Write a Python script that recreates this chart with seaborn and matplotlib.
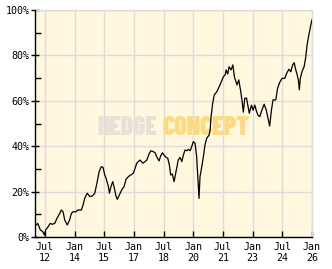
import matplotlib
matplotlib.use("Agg")
import matplotlib.pyplot as plt
from matplotlib.ticker import FixedLocator
import seaborn as sns
import pandas as pd

years = [2012.07, 2012.14, 2012.27, 2012.40, 2012.47, 2012.54, 2012.66, 2012.77, 2012.87, 2013.00,
         2013.11, 2013.25, 2013.33, 2013.42, 2013.50, 2013.63, 2013.75, 2013.84, 2013.92, 2014.06,
         2014.17, 2014.34, 2014.43, 2014.51, 2014.64, 2014.77, 2014.90, 2015.02, 2015.13, 2015.24,
         2015.35, 2015.44, 2015.52, 2015.59, 2015.71, 2015.76, 2015.84, 2015.93, 2016.01, 2016.10,
         2016.16, 2016.26, 2016.38, 2016.50, 2016.60, 2016.72, 2016.84, 2016.97, 2017.06, 2017.14,
         2017.22, 2017.31, 2017.45, 2017.56, 2017.65, 2017.78, 2017.86, 2017.98, 2018.07, 2018.15,
         2018.27, 2018.35, 2018.44, 2018.52, 2018.62, 2018.71, 2018.79, 2018.86, 2018.94, 2019.03,
         2019.08, 2019.16, 2019.24, 2019.33, 2019.42, 2019.50, 2019.58, 2019.67, 2019.75, 2019.84,
         2019.92, 2020.00, 2020.09, 2020.17, 2020.23, 2020.29, 2020.34, 2020.43, 2020.51, 2020.59,
         2020.68, 2020.80, 2020.85, 2020.90, 2020.98, 2021.06, 2021.19, 2021.27, 2021.35, 2021.44,
         2021.52, 2021.61, 2021.66, 2021.74, 2021.81, 2021.91, 2022.00, 2022.08, 2022.13, 2022.21,
         2022.30, 2022.40, 2022.47, 2022.53, 2022.60, 2022.69, 2022.77, 2022.83, 2022.94, 2023.02,
         2023.11, 2023.19, 2023.27, 2023.36, 2023.44, 2023.58, 2023.69, 2023.78, 2023.86, 2023.95,
         2024.03, 2024.17, 2024.26, 2024.36, 2024.49, 2024.62, 2024.74, 2024.84, 2024.93, 2025.02,
         2025.10, 2025.16, 2025.24, 2025.31, 2025.36, 2025.41, 2025.50, 2025.60, 2025.68, 2025.75,
         2025.84, 2025.93, 2026.00]

performance = [5.3, 6.0, 3.1, 2.3, 0.9, 3.1, 4.5, 6.0, 5.6, 6.0,
               8.2, 10.4, 11.9, 11.1, 7.5, 5.3, 7.5, 10.4, 11.1, 11.1,
               11.9, 11.9, 14.1, 17.0, 19.3, 17.8, 18.1, 19.3, 23.7, 28.8,
               31.0, 30.7, 27.5, 25.9, 22.2, 19.3, 22.2, 24.4, 21.5, 17.8,
               16.6, 18.5, 20.7, 22.2, 25.4, 26.6, 27.3, 28.1, 30.3, 32.5,
               33.2, 33.9, 32.5, 33.2, 33.9, 36.9, 38.0, 37.6, 37.1, 35.4,
               33.5, 35.7, 37.1, 36.1, 35.1, 34.7, 31.7, 27.3, 27.8, 24.4,
               26.6, 30.3, 33.9, 35.1, 33.2, 36.1, 38.3, 38.0, 38.6, 38.0,
               39.8, 42.0, 41.3, 35.4, 25.9, 17.0, 26.6, 31.0, 35.4, 40.5,
               43.5, 44.9, 47.1, 53.0, 58.9, 62.6, 64.0, 65.5, 67.0, 68.9,
               70.6, 71.4, 73.6, 71.8, 75.0, 73.6, 75.8, 70.5, 69.2, 67.0,
               69.2, 64.0, 59.6, 55.0, 61.1, 61.2, 57.4, 54.5, 58.1, 55.9,
               58.1, 55.5, 53.7, 53.0, 55.2, 58.5, 55.9, 52.3, 48.9, 55.9,
               60.4, 60.4, 65.5, 68.0, 69.9, 69.9, 72.5, 73.9, 72.8, 75.8,
               76.8, 74.3, 71.8, 69.2, 64.8, 70.0, 73.0, 75.0, 79.0, 84.5,
               89.0, 93.0, 95.7]

x_tick_pos = [2012.5, 2014.0, 2015.5, 2017.0, 2018.5, 2020.0, 2021.5, 2023.0, 2024.5, 2026.0]
x_tick_labels = ["Jul\n12", "Jan\n14", "Jul\n15", "Jan\n17", "Jul\n18",
                 "Jan\n20", "Jul\n21", "Jan\n23", "Jul\n24", "Jan\n26"]
y_tick_pos = [0, 20, 40, 60, 80, 100]
y_tick_labels = ["0%", "20%", "40%", "60%", "80%", "100%"]
y_minor_pos = [10, 30, 50, 70, 90]

df = pd.DataFrame({"year": years, "perf": performance})

sns.set_style("white")
plt.rcParams["font.family"] = ["DejaVu Sans Mono", "DejaVu Sans"]

W, H = 332, 269
fig = plt.figure(figsize=(W / 100, H / 100), dpi=100)
fig.patch.set_facecolor("white")
ax = fig.add_axes([35 / W, 32 / H, (312 - 35) / W, (237 - 10) / H])
ax.set_facecolor("#FFF7DE")

ax.set_xlim(2012.0, 2026.0)
ax.set_ylim(0, 100)

ax.set_xticks(x_tick_pos)
ax.set_xticklabels(x_tick_labels)
ax.set_yticks(y_tick_pos)
ax.set_yticklabels(y_tick_labels)
ax.yaxis.set_minor_locator(FixedLocator(y_minor_pos))

ax.grid(True, which="major", color="#DCDCDC", linewidth=1.0, zorder=0)
ax.set_axisbelow(True)

# watermark
wm_font = dict(fontsize=18.5, fontweight=900, family=["Barlow Condensed", "DejaVu Sans"],
               transform=ax.transAxes, va="baseline", ha="center", zorder=1)
ax.text((127.5 - 35) / 277, (237 - 134.7) / 227, "HEDGE", color="#E6E2D8", **wm_font)
ax.text((206 - 35) / 277, (237 - 134.7) / 227, "CONCEPT", color="#FFD980", **wm_font)

sns.lineplot(data=df, x="year", y="perf", ax=ax, color="black", linewidth=0.9, zorder=3)

ax.set_xlabel("")
ax.set_ylabel("")

for side in ["top", "right"]:
    ax.spines[side].set_color("#DCDCDC")
    ax.spines[side].set_linewidth(1.0)
for side in ["left", "bottom"]:
    ax.spines[side].set_color("black")
    ax.spines[side].set_linewidth(1.0)
    ax.spines[side].set_zorder(4)

ax.tick_params(axis="x", which="major", direction="in", length=4, width=1, color="black",
               pad=3.5, labelsize=7.2, labelcolor="black", bottom=True)
ax.tick_params(axis="y", which="major", direction="inout", length=6, width=1, color="black",
               pad=1, labelsize=7.2, labelcolor="black", left=True)
ax.tick_params(axis="y", which="minor", direction="in", length=4, width=1, color="black",
               left=True)

fig.savefig("out.png", dpi=100, facecolor="white")
